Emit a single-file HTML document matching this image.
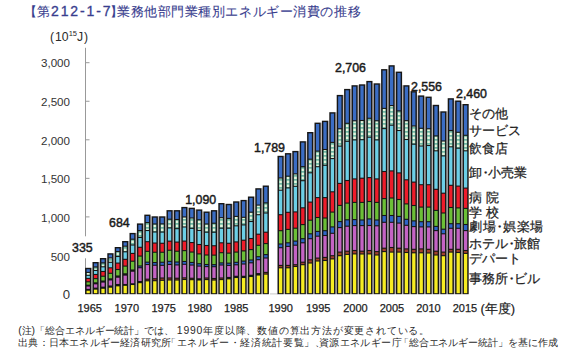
<!DOCTYPE html>
<html><head><meta charset="utf-8"><style>
html,body{margin:0;padding:0;background:#fff;}
body{width:567px;height:354px;position:relative;overflow:hidden;font-family:"Liberation Sans",sans-serif;color:#222;}
.t{position:absolute;white-space:nowrap;line-height:1;}
.tt{position:absolute;white-space:nowrap;line-height:1;top:5px;font-size:13px;color:#383d8e;-webkit-text-stroke:0.1px #383d8e;}
.yl{position:absolute;right:497px;font-size:11.6px;color:#333;line-height:1;white-space:nowrap;}
.xl{position:absolute;font-size:11px;color:#222;line-height:1;white-space:nowrap;-webkit-text-stroke:0.25px #222;}
.vl{position:absolute;font-size:12.4px;color:#1a1a1a;line-height:1;white-space:nowrap;-webkit-text-stroke:0.45px #1a1a1a;}
.lg{position:absolute;left:469px;font-size:13px;color:#1e1e1e;line-height:1;white-space:nowrap;-webkit-text-stroke:0.25px #1e1e1e;}
.d{margin:0 -3.3px;}
.fn{position:absolute;white-space:nowrap;line-height:1;font-size:10.4px;color:#2a2a2a;}
</style></head><body>
<div class="tt" style="left:24px;">【</div>
<div class="tt" style="left:37px;">第</div>
<div class="t" style="left:51px;top:4px;font-size:14px;color:#383d8e;letter-spacing:1.9px;-webkit-text-stroke:0.3px #383d8e;">212-1-7</div>
<div class="tt" style="left:110.3px;">】</div>
<div class="tt" style="left:117px;letter-spacing:0.56px;">業務他部門業種別エネルギー消費の推移</div>
<div class="t" style="left:50px;top:30.5px;font-size:12.2px;color:#2a2a2a;">(&#8202;10<span style="font-size:7.5px;position:relative;top:-4.5px;">15</span>J&#8202;)</div>
<svg width="567" height="354" style="position:absolute;left:0;top:0;">
<defs>
<pattern id="dots" patternUnits="userSpaceOnUse" x="85.1" y="0" width="7.4" height="4">
<rect x="0" y="0" width="7.4" height="4" fill="#3f9c8a"/>
<rect x="1.75" y="0.5" width="2.7" height="2.8" fill="#e6f4dc"/>
</pattern>
</defs>
<line x1="85.5" y1="47.8" x2="85.5" y2="294" stroke="#999" stroke-width="1"/>
<line x1="85.5" y1="255.45" x2="89.5" y2="255.45" stroke="#999" stroke-width="1"/><line x1="85.5" y1="216.90" x2="89.5" y2="216.90" stroke="#999" stroke-width="1"/><line x1="85.5" y1="178.35" x2="89.5" y2="178.35" stroke="#999" stroke-width="1"/><line x1="85.5" y1="139.80" x2="89.5" y2="139.80" stroke="#999" stroke-width="1"/><line x1="85.5" y1="101.25" x2="89.5" y2="101.25" stroke="#999" stroke-width="1"/><line x1="85.5" y1="62.70" x2="89.5" y2="62.70" stroke="#999" stroke-width="1"/>
<rect x="70" y="236.3" width="24" height="22" fill="#fff"/>
<line x1="270" y1="293.9" x2="278" y2="293.9" stroke="#bbb" stroke-width="0.8"/>
<rect x="91.30" y="267.80" width="1.20" height="26.40" fill="#c2baba"/>
<rect x="98.70" y="262.00" width="1.20" height="32.20" fill="#c2baba"/>
<rect x="106.10" y="258.00" width="1.20" height="36.20" fill="#c2baba"/>
<rect x="113.50" y="253.20" width="1.20" height="41.00" fill="#c2baba"/>
<rect x="120.90" y="247.00" width="1.20" height="47.20" fill="#c2baba"/>
<rect x="128.30" y="241.00" width="1.20" height="53.20" fill="#c2baba"/>
<rect x="135.70" y="232.90" width="1.20" height="61.30" fill="#c2baba"/>
<rect x="143.10" y="223.40" width="1.20" height="70.80" fill="#c2baba"/>
<rect x="150.50" y="216.30" width="1.20" height="77.90" fill="#c2baba"/>
<rect x="157.90" y="216.30" width="1.20" height="77.90" fill="#c2baba"/>
<rect x="165.30" y="216.30" width="1.20" height="77.90" fill="#c2baba"/>
<rect x="172.70" y="210.10" width="1.20" height="84.10" fill="#c2baba"/>
<rect x="180.10" y="210.10" width="1.20" height="84.10" fill="#c2baba"/>
<rect x="187.50" y="207.70" width="1.20" height="86.50" fill="#c2baba"/>
<rect x="194.90" y="209.40" width="1.20" height="84.80" fill="#c2baba"/>
<rect x="202.30" y="211.50" width="1.20" height="82.70" fill="#c2baba"/>
<rect x="209.70" y="211.50" width="1.20" height="82.70" fill="#c2baba"/>
<rect x="217.10" y="210.10" width="1.20" height="84.10" fill="#c2baba"/>
<rect x="224.50" y="203.80" width="1.20" height="90.40" fill="#c2baba"/>
<rect x="231.90" y="203.80" width="1.20" height="90.40" fill="#c2baba"/>
<rect x="239.30" y="201.30" width="1.20" height="92.90" fill="#c2baba"/>
<rect x="246.70" y="199.90" width="1.20" height="94.30" fill="#c2baba"/>
<rect x="254.10" y="196.50" width="1.20" height="97.70" fill="#c2baba"/>
<rect x="261.50" y="188.20" width="1.20" height="106.00" fill="#c2baba"/>
<rect x="283.70" y="155.80" width="1.20" height="138.40" fill="#c2baba"/>
<rect x="291.10" y="153.10" width="1.20" height="141.10" fill="#c2baba"/>
<rect x="298.50" y="150.90" width="1.20" height="143.30" fill="#c2baba"/>
<rect x="305.90" y="141.20" width="1.20" height="153.00" fill="#c2baba"/>
<rect x="313.30" y="132.00" width="1.20" height="162.20" fill="#c2baba"/>
<rect x="320.70" y="122.60" width="1.20" height="171.60" fill="#c2baba"/>
<rect x="328.10" y="120.70" width="1.20" height="173.50" fill="#c2baba"/>
<rect x="335.50" y="112.20" width="1.20" height="182.00" fill="#c2baba"/>
<rect x="342.90" y="94.90" width="1.20" height="199.30" fill="#c2baba"/>
<rect x="350.30" y="88.90" width="1.20" height="205.30" fill="#c2baba"/>
<rect x="357.70" y="85.20" width="1.20" height="209.00" fill="#c2baba"/>
<rect x="365.10" y="84.30" width="1.20" height="209.90" fill="#c2baba"/>
<rect x="372.50" y="83.30" width="1.20" height="210.90" fill="#c2baba"/>
<rect x="379.90" y="83.30" width="1.20" height="210.90" fill="#c2baba"/>
<rect x="387.30" y="69.10" width="1.20" height="225.10" fill="#c2baba"/>
<rect x="394.70" y="71.60" width="1.20" height="222.60" fill="#c2baba"/>
<rect x="402.10" y="85.20" width="1.20" height="209.00" fill="#c2baba"/>
<rect x="409.50" y="91.10" width="1.20" height="203.10" fill="#c2baba"/>
<rect x="416.90" y="95.40" width="1.20" height="198.80" fill="#c2baba"/>
<rect x="424.30" y="96.60" width="1.20" height="197.60" fill="#c2baba"/>
<rect x="431.70" y="104.80" width="1.20" height="189.40" fill="#c2baba"/>
<rect x="439.10" y="111.30" width="1.20" height="182.90" fill="#c2baba"/>
<rect x="446.50" y="111.30" width="1.20" height="182.90" fill="#c2baba"/>
<rect x="453.90" y="100.50" width="1.20" height="193.70" fill="#c2baba"/>
<rect x="461.30" y="104.00" width="1.20" height="190.20" fill="#c2baba"/>
<rect x="85.10" y="267.80" width="6.20" height="26.40" fill="#161616"/>
<rect x="86.55" y="269.20" width="3.30" height="2.65" fill="#3b6dc4"/>
<rect x="86.55" y="272.95" width="3.30" height="1.80" fill="url(#dots)"/>
<rect x="86.55" y="275.85" width="3.30" height="2.00" fill="#6ccfe6"/>
<rect x="86.55" y="278.95" width="3.30" height="2.30" fill="#ee1c2a"/>
<rect x="86.55" y="282.35" width="3.30" height="2.30" fill="#6cbf37"/>
<rect x="86.55" y="286.55" width="3.30" height="2.30" fill="#c463c4"/>
<rect x="86.55" y="290.75" width="3.30" height="2.45" fill="#f6ec22"/>
<rect x="92.50" y="262.00" width="6.20" height="32.20" fill="#161616"/>
<rect x="93.95" y="263.40" width="3.30" height="3.03" fill="#3b6dc4"/>
<rect x="93.95" y="267.53" width="3.30" height="2.41" fill="url(#dots)"/>
<rect x="93.95" y="271.03" width="3.30" height="2.86" fill="#6ccfe6"/>
<rect x="93.95" y="274.99" width="3.30" height="3.10" fill="#ee1c2a"/>
<rect x="93.95" y="279.19" width="3.30" height="3.12" fill="#6cbf37"/>
<rect x="93.95" y="284.35" width="3.30" height="3.26" fill="#c463c4"/>
<rect x="93.95" y="289.66" width="3.30" height="3.54" fill="#f6ec22"/>
<rect x="99.90" y="258.00" width="6.20" height="36.20" fill="#161616"/>
<rect x="101.35" y="259.40" width="3.30" height="2.93" fill="#3b6dc4"/>
<rect x="101.35" y="263.43" width="3.30" height="2.81" fill="url(#dots)"/>
<rect x="101.35" y="267.34" width="3.30" height="3.56" fill="#6ccfe6"/>
<rect x="101.35" y="271.99" width="3.30" height="3.69" fill="#ee1c2a"/>
<rect x="101.35" y="276.78" width="3.30" height="3.72" fill="#6cbf37"/>
<rect x="101.35" y="282.61" width="3.30" height="4.03" fill="#c463c4"/>
<rect x="101.35" y="288.79" width="3.30" height="4.41" fill="#f6ec22"/>
<rect x="107.30" y="253.20" width="6.20" height="41.00" fill="#161616"/>
<rect x="108.75" y="254.60" width="3.30" height="2.77" fill="#3b6dc4"/>
<rect x="108.75" y="258.47" width="3.30" height="3.28" fill="url(#dots)"/>
<rect x="108.75" y="262.85" width="3.30" height="4.40" fill="#6ccfe6"/>
<rect x="108.75" y="268.35" width="3.30" height="4.39" fill="#ee1c2a"/>
<rect x="108.75" y="273.84" width="3.30" height="4.45" fill="#6cbf37"/>
<rect x="108.75" y="280.49" width="3.30" height="4.98" fill="#c463c4"/>
<rect x="108.75" y="287.72" width="3.30" height="5.48" fill="#f6ec22"/>
<rect x="114.70" y="247.00" width="6.20" height="47.20" fill="#161616"/>
<rect x="116.15" y="248.40" width="3.30" height="2.55" fill="#3b6dc4"/>
<rect x="116.15" y="252.05" width="3.30" height="3.90" fill="url(#dots)"/>
<rect x="116.15" y="257.05" width="3.30" height="5.50" fill="#6ccfe6"/>
<rect x="116.15" y="263.65" width="3.30" height="5.30" fill="#ee1c2a"/>
<rect x="116.15" y="270.05" width="3.30" height="5.40" fill="#6cbf37"/>
<rect x="116.15" y="277.75" width="3.30" height="6.20" fill="#c463c4"/>
<rect x="116.15" y="286.35" width="3.30" height="6.85" fill="#f6ec22"/>
<rect x="122.10" y="241.00" width="6.20" height="53.20" fill="#161616"/>
<rect x="123.55" y="242.40" width="3.30" height="3.25" fill="#3b6dc4"/>
<rect x="123.55" y="246.75" width="3.30" height="4.50" fill="url(#dots)"/>
<rect x="123.55" y="252.35" width="3.30" height="6.40" fill="#6ccfe6"/>
<rect x="123.55" y="259.85" width="3.30" height="5.70" fill="#ee1c2a"/>
<rect x="123.55" y="266.65" width="3.30" height="6.60" fill="#6cbf37"/>
<rect x="123.55" y="275.65" width="3.30" height="8.30" fill="#c463c4"/>
<rect x="123.55" y="285.85" width="3.30" height="7.35" fill="#f6ec22"/>
<rect x="129.50" y="232.90" width="6.20" height="61.30" fill="#161616"/>
<rect x="130.95" y="234.30" width="3.30" height="4.35" fill="#3b6dc4"/>
<rect x="130.95" y="239.75" width="3.30" height="4.70" fill="url(#dots)"/>
<rect x="130.95" y="245.55" width="3.30" height="7.30" fill="#6ccfe6"/>
<rect x="130.95" y="253.95" width="3.30" height="6.70" fill="#ee1c2a"/>
<rect x="130.95" y="261.75" width="3.30" height="7.70" fill="#6cbf37"/>
<rect x="130.95" y="271.75" width="3.30" height="11.50" fill="#c463c4"/>
<rect x="130.95" y="285.05" width="3.30" height="8.15" fill="#f6ec22"/>
<rect x="136.90" y="223.40" width="6.20" height="70.80" fill="#161616"/>
<rect x="138.35" y="224.80" width="3.30" height="5.23" fill="#3b6dc4"/>
<rect x="138.35" y="231.13" width="3.30" height="5.78" fill="url(#dots)"/>
<rect x="138.35" y="238.02" width="3.30" height="8.72" fill="#6ccfe6"/>
<rect x="138.35" y="247.83" width="3.30" height="7.70" fill="#ee1c2a"/>
<rect x="138.35" y="256.63" width="3.30" height="8.79" fill="#6cbf37"/>
<rect x="138.35" y="266.53" width="3.30" height="0.64" fill="#2f66c8"/>
<rect x="138.35" y="268.27" width="3.30" height="12.70" fill="#c463c4"/>
<rect x="138.35" y="283.19" width="3.30" height="10.01" fill="#f6ec22"/>
<rect x="144.30" y="214.60" width="6.20" height="79.60" fill="#161616"/>
<rect x="145.75" y="216.00" width="3.30" height="6.02" fill="#3b6dc4"/>
<rect x="145.75" y="223.12" width="3.30" height="6.85" fill="url(#dots)"/>
<rect x="145.75" y="231.07" width="3.30" height="10.07" fill="#6ccfe6"/>
<rect x="145.75" y="242.24" width="3.30" height="8.56" fill="#ee1c2a"/>
<rect x="145.75" y="251.89" width="3.30" height="9.72" fill="#6cbf37"/>
<rect x="145.75" y="262.71" width="3.30" height="1.26" fill="#2f66c8"/>
<rect x="145.75" y="265.07" width="3.30" height="13.56" fill="#c463c4"/>
<rect x="145.75" y="279.73" width="3.30" height="0.53" fill="#a3402c"/>
<rect x="145.75" y="281.36" width="3.30" height="11.84" fill="#f6ec22"/>
<rect x="151.70" y="216.30" width="6.20" height="77.90" fill="#161616"/>
<rect x="153.15" y="217.70" width="3.30" height="5.74" fill="#3b6dc4"/>
<rect x="153.15" y="224.54" width="3.30" height="6.88" fill="url(#dots)"/>
<rect x="153.15" y="232.53" width="3.30" height="9.96" fill="#6ccfe6"/>
<rect x="153.15" y="243.59" width="3.30" height="8.12" fill="#ee1c2a"/>
<rect x="153.15" y="252.81" width="3.30" height="9.19" fill="#6cbf37"/>
<rect x="153.15" y="263.09" width="3.30" height="1.60" fill="#2f66c8"/>
<rect x="153.15" y="265.80" width="3.30" height="12.42" fill="#c463c4"/>
<rect x="153.15" y="279.31" width="3.30" height="0.85" fill="#a3402c"/>
<rect x="153.15" y="281.26" width="3.30" height="11.94" fill="#f6ec22"/>
<rect x="159.10" y="216.30" width="6.20" height="77.90" fill="#161616"/>
<rect x="160.55" y="217.70" width="3.30" height="5.64" fill="#3b6dc4"/>
<rect x="160.55" y="224.44" width="3.30" height="7.09" fill="url(#dots)"/>
<rect x="160.55" y="232.63" width="3.30" height="10.09" fill="#6ccfe6"/>
<rect x="160.55" y="243.82" width="3.30" height="7.89" fill="#ee1c2a"/>
<rect x="160.55" y="252.80" width="3.30" height="8.89" fill="#6cbf37"/>
<rect x="160.55" y="262.79" width="3.30" height="2.00" fill="#2f66c8"/>
<rect x="160.55" y="265.89" width="3.30" height="11.58" fill="#c463c4"/>
<rect x="160.55" y="278.57" width="3.30" height="1.20" fill="#a3402c"/>
<rect x="160.55" y="280.87" width="3.30" height="12.33" fill="#f6ec22"/>
<rect x="166.50" y="210.10" width="6.20" height="84.10" fill="#161616"/>
<rect x="167.95" y="211.50" width="3.30" height="7.16" fill="#3b6dc4"/>
<rect x="167.95" y="219.76" width="3.30" height="7.61" fill="url(#dots)"/>
<rect x="167.95" y="228.47" width="3.30" height="12.12" fill="#6ccfe6"/>
<rect x="167.95" y="241.69" width="3.30" height="8.01" fill="#ee1c2a"/>
<rect x="167.95" y="250.80" width="3.30" height="10.01" fill="#6cbf37"/>
<rect x="167.95" y="261.91" width="3.30" height="2.00" fill="#2f66c8"/>
<rect x="167.95" y="265.01" width="3.30" height="12.42" fill="#c463c4"/>
<rect x="167.95" y="278.53" width="3.30" height="0.90" fill="#a3402c"/>
<rect x="167.95" y="280.53" width="3.30" height="12.67" fill="#f6ec22"/>
<rect x="173.90" y="210.10" width="6.20" height="84.10" fill="#161616"/>
<rect x="175.35" y="211.50" width="3.30" height="7.46" fill="#3b6dc4"/>
<rect x="175.35" y="220.06" width="3.30" height="8.06" fill="url(#dots)"/>
<rect x="175.35" y="229.22" width="3.30" height="12.31" fill="#6ccfe6"/>
<rect x="175.35" y="242.63" width="3.30" height="8.06" fill="#ee1c2a"/>
<rect x="175.35" y="251.79" width="3.30" height="9.66" fill="#6cbf37"/>
<rect x="175.35" y="262.56" width="3.30" height="1.82" fill="#2f66c8"/>
<rect x="175.35" y="265.48" width="3.30" height="12.19" fill="#c463c4"/>
<rect x="175.35" y="278.77" width="3.30" height="0.70" fill="#a3402c"/>
<rect x="175.35" y="280.57" width="3.30" height="12.63" fill="#f6ec22"/>
<rect x="181.30" y="206.90" width="6.20" height="87.30" fill="#161616"/>
<rect x="182.75" y="208.30" width="3.30" height="8.13" fill="#3b6dc4"/>
<rect x="182.75" y="217.53" width="3.30" height="8.88" fill="url(#dots)"/>
<rect x="182.75" y="227.51" width="3.30" height="13.02" fill="#6ccfe6"/>
<rect x="182.75" y="241.63" width="3.30" height="8.47" fill="#ee1c2a"/>
<rect x="182.75" y="251.19" width="3.30" height="9.71" fill="#6cbf37"/>
<rect x="182.75" y="262.01" width="3.30" height="1.75" fill="#2f66c8"/>
<rect x="182.75" y="264.85" width="3.30" height="12.45" fill="#c463c4"/>
<rect x="182.75" y="278.40" width="3.30" height="0.56" fill="#a3402c"/>
<rect x="182.75" y="280.06" width="3.30" height="13.14" fill="#f6ec22"/>
<rect x="188.70" y="207.70" width="6.20" height="86.50" fill="#161616"/>
<rect x="190.15" y="209.10" width="3.30" height="8.35" fill="#3b6dc4"/>
<rect x="190.15" y="218.55" width="3.30" height="9.25" fill="url(#dots)"/>
<rect x="190.15" y="228.90" width="3.30" height="13.09" fill="#6ccfe6"/>
<rect x="190.15" y="243.08" width="3.30" height="8.43" fill="#ee1c2a"/>
<rect x="190.15" y="252.62" width="3.30" height="9.25" fill="#6cbf37"/>
<rect x="190.15" y="262.97" width="3.30" height="1.53" fill="#2f66c8"/>
<rect x="190.15" y="265.61" width="3.30" height="12.09" fill="#c463c4"/>
<rect x="190.15" y="278.80" width="3.30" height="0.33" fill="#a3402c"/>
<rect x="190.15" y="280.23" width="3.30" height="12.97" fill="#f6ec22"/>
<rect x="196.10" y="209.40" width="6.20" height="84.80" fill="#161616"/>
<rect x="197.55" y="210.80" width="3.30" height="8.45" fill="#3b6dc4"/>
<rect x="197.55" y="220.35" width="3.30" height="9.50" fill="url(#dots)"/>
<rect x="197.55" y="230.95" width="3.30" height="13.00" fill="#6ccfe6"/>
<rect x="197.55" y="245.05" width="3.30" height="8.30" fill="#ee1c2a"/>
<rect x="197.55" y="254.45" width="3.30" height="8.70" fill="#6cbf37"/>
<rect x="197.55" y="264.25" width="3.30" height="1.30" fill="#2f66c8"/>
<rect x="197.55" y="266.65" width="3.30" height="11.60" fill="#c463c4"/>
<rect x="197.55" y="280.55" width="3.30" height="12.65" fill="#f6ec22"/>
<rect x="203.50" y="211.50" width="6.20" height="82.70" fill="#161616"/>
<rect x="204.95" y="212.90" width="3.30" height="10.55" fill="#3b6dc4"/>
<rect x="204.95" y="224.55" width="3.30" height="7.10" fill="url(#dots)"/>
<rect x="204.95" y="232.75" width="3.30" height="12.20" fill="#6ccfe6"/>
<rect x="204.95" y="246.05" width="3.30" height="8.40" fill="#ee1c2a"/>
<rect x="204.95" y="255.55" width="3.30" height="8.40" fill="#6cbf37"/>
<rect x="204.95" y="265.05" width="3.30" height="1.00" fill="#2f66c8"/>
<rect x="204.95" y="267.15" width="3.30" height="10.30" fill="#c463c4"/>
<rect x="204.95" y="278.55" width="3.30" height="0.50" fill="#a3402c"/>
<rect x="204.95" y="280.15" width="3.30" height="13.05" fill="#f6ec22"/>
<rect x="210.90" y="210.10" width="6.20" height="84.10" fill="#161616"/>
<rect x="212.35" y="211.50" width="3.30" height="11.18" fill="#3b6dc4"/>
<rect x="212.35" y="223.78" width="3.30" height="7.91" fill="url(#dots)"/>
<rect x="212.35" y="232.79" width="3.30" height="12.39" fill="#6ccfe6"/>
<rect x="212.35" y="246.29" width="3.30" height="8.30" fill="#ee1c2a"/>
<rect x="212.35" y="255.68" width="3.30" height="8.43" fill="#6cbf37"/>
<rect x="212.35" y="265.22" width="3.30" height="0.94" fill="#2f66c8"/>
<rect x="212.35" y="267.25" width="3.30" height="10.69" fill="#c463c4"/>
<rect x="212.35" y="279.04" width="3.30" height="0.45" fill="#a3402c"/>
<rect x="212.35" y="280.59" width="3.30" height="12.61" fill="#f6ec22"/>
<rect x="218.30" y="203.00" width="6.20" height="91.20" fill="#161616"/>
<rect x="219.75" y="204.40" width="3.30" height="12.75" fill="#3b6dc4"/>
<rect x="219.75" y="218.25" width="3.30" height="9.40" fill="url(#dots)"/>
<rect x="219.75" y="228.75" width="3.30" height="13.50" fill="#6ccfe6"/>
<rect x="219.75" y="243.35" width="3.30" height="8.80" fill="#ee1c2a"/>
<rect x="219.75" y="253.25" width="3.30" height="9.10" fill="#6cbf37"/>
<rect x="219.75" y="263.45" width="3.30" height="1.00" fill="#2f66c8"/>
<rect x="219.75" y="265.55" width="3.30" height="11.90" fill="#c463c4"/>
<rect x="219.75" y="278.55" width="3.30" height="0.50" fill="#a3402c"/>
<rect x="219.75" y="280.15" width="3.30" height="13.05" fill="#f6ec22"/>
<rect x="225.70" y="203.80" width="6.20" height="90.40" fill="#161616"/>
<rect x="227.15" y="205.20" width="3.30" height="12.68" fill="#3b6dc4"/>
<rect x="227.15" y="218.98" width="3.30" height="8.68" fill="url(#dots)"/>
<rect x="227.15" y="228.76" width="3.30" height="13.97" fill="#6ccfe6"/>
<rect x="227.15" y="243.83" width="3.30" height="8.77" fill="#ee1c2a"/>
<rect x="227.15" y="253.70" width="3.30" height="8.92" fill="#6cbf37"/>
<rect x="227.15" y="263.72" width="3.30" height="1.16" fill="#2f66c8"/>
<rect x="227.15" y="265.97" width="3.30" height="10.94" fill="#c463c4"/>
<rect x="227.15" y="279.39" width="3.30" height="13.81" fill="#f6ec22"/>
<rect x="233.10" y="201.30" width="6.20" height="92.90" fill="#161616"/>
<rect x="234.55" y="202.70" width="3.30" height="13.15" fill="#3b6dc4"/>
<rect x="234.55" y="216.95" width="3.30" height="8.30" fill="url(#dots)"/>
<rect x="234.55" y="226.35" width="3.30" height="15.00" fill="#6ccfe6"/>
<rect x="234.55" y="242.45" width="3.30" height="9.10" fill="#ee1c2a"/>
<rect x="234.55" y="252.65" width="3.30" height="9.10" fill="#6cbf37"/>
<rect x="234.55" y="262.85" width="3.30" height="1.40" fill="#2f66c8"/>
<rect x="234.55" y="265.35" width="3.30" height="10.40" fill="#c463c4"/>
<rect x="234.55" y="278.05" width="3.30" height="15.15" fill="#f6ec22"/>
<rect x="240.50" y="199.90" width="6.20" height="94.30" fill="#161616"/>
<rect x="241.95" y="201.30" width="3.30" height="15.45" fill="#3b6dc4"/>
<rect x="241.95" y="217.85" width="3.30" height="6.50" fill="url(#dots)"/>
<rect x="241.95" y="225.45" width="3.30" height="14.20" fill="#6ccfe6"/>
<rect x="241.95" y="240.75" width="3.30" height="9.60" fill="#ee1c2a"/>
<rect x="241.95" y="251.45" width="3.30" height="9.10" fill="#6cbf37"/>
<rect x="241.95" y="261.65" width="3.30" height="1.80" fill="#2f66c8"/>
<rect x="241.95" y="264.55" width="3.30" height="11.20" fill="#c463c4"/>
<rect x="241.95" y="278.05" width="3.30" height="15.15" fill="#f6ec22"/>
<rect x="247.90" y="196.50" width="6.20" height="97.70" fill="#161616"/>
<rect x="249.35" y="197.90" width="3.30" height="13.75" fill="#3b6dc4"/>
<rect x="249.35" y="212.75" width="3.30" height="8.20" fill="url(#dots)"/>
<rect x="249.35" y="222.05" width="3.30" height="15.90" fill="#6ccfe6"/>
<rect x="249.35" y="239.05" width="3.30" height="10.00" fill="#ee1c2a"/>
<rect x="249.35" y="250.15" width="3.30" height="9.30" fill="#6cbf37"/>
<rect x="249.35" y="260.55" width="3.30" height="1.70" fill="#2f66c8"/>
<rect x="249.35" y="263.35" width="3.30" height="11.40" fill="#c463c4"/>
<rect x="249.35" y="277.05" width="3.30" height="16.15" fill="#f6ec22"/>
<rect x="255.30" y="188.20" width="6.20" height="106.00" fill="#161616"/>
<rect x="256.75" y="189.60" width="3.30" height="14.95" fill="#3b6dc4"/>
<rect x="256.75" y="205.65" width="3.30" height="8.50" fill="url(#dots)"/>
<rect x="256.75" y="215.25" width="3.30" height="18.40" fill="#6ccfe6"/>
<rect x="256.75" y="234.75" width="3.30" height="10.00" fill="#ee1c2a"/>
<rect x="256.75" y="245.85" width="3.30" height="10.30" fill="#6cbf37"/>
<rect x="256.75" y="257.25" width="3.30" height="1.90" fill="#2f66c8"/>
<rect x="256.75" y="260.25" width="3.30" height="12.80" fill="#c463c4"/>
<rect x="256.75" y="275.55" width="3.30" height="17.65" fill="#f6ec22"/>
<rect x="262.70" y="185.50" width="6.20" height="108.70" fill="#161616"/>
<rect x="264.15" y="186.90" width="3.30" height="15.45" fill="#3b6dc4"/>
<rect x="264.15" y="203.45" width="3.30" height="9.00" fill="url(#dots)"/>
<rect x="264.15" y="213.55" width="3.30" height="18.10" fill="#6ccfe6"/>
<rect x="264.15" y="232.75" width="3.30" height="10.30" fill="#ee1c2a"/>
<rect x="264.15" y="244.15" width="3.30" height="9.90" fill="#6cbf37"/>
<rect x="264.15" y="255.15" width="3.30" height="2.30" fill="#2f66c8"/>
<rect x="264.15" y="258.55" width="3.30" height="13.30" fill="#c463c4"/>
<rect x="264.15" y="272.95" width="3.30" height="0.60" fill="#a3402c"/>
<rect x="264.15" y="274.65" width="3.30" height="18.55" fill="#f6ec22"/>
<rect x="277.50" y="155.80" width="6.20" height="138.40" fill="#161616"/>
<rect x="278.95" y="157.20" width="3.30" height="20.25" fill="#3b6dc4"/>
<rect x="278.95" y="178.55" width="3.30" height="11.10" fill="url(#dots)"/>
<rect x="278.95" y="190.75" width="3.30" height="23.40" fill="#6ccfe6"/>
<rect x="278.95" y="215.25" width="3.30" height="14.90" fill="#ee1c2a"/>
<rect x="278.95" y="231.25" width="3.30" height="12.20" fill="#6cbf37"/>
<rect x="278.95" y="244.55" width="3.30" height="2.60" fill="#2f66c8"/>
<rect x="278.95" y="248.25" width="3.30" height="16.60" fill="#c463c4"/>
<rect x="278.95" y="265.95" width="3.30" height="1.30" fill="#a3402c"/>
<rect x="278.95" y="268.35" width="3.30" height="24.85" fill="#f6ec22"/>
<rect x="284.90" y="153.10" width="6.20" height="141.10" fill="#161616"/>
<rect x="286.35" y="154.50" width="3.30" height="21.15" fill="#3b6dc4"/>
<rect x="286.35" y="176.75" width="3.30" height="10.60" fill="url(#dots)"/>
<rect x="286.35" y="188.45" width="3.30" height="23.30" fill="#6ccfe6"/>
<rect x="286.35" y="212.85" width="3.30" height="16.00" fill="#ee1c2a"/>
<rect x="286.35" y="229.95" width="3.30" height="12.30" fill="#6cbf37"/>
<rect x="286.35" y="243.35" width="3.30" height="2.50" fill="#2f66c8"/>
<rect x="286.35" y="246.95" width="3.30" height="17.90" fill="#c463c4"/>
<rect x="286.35" y="265.95" width="3.30" height="1.30" fill="#a3402c"/>
<rect x="286.35" y="268.35" width="3.30" height="24.85" fill="#f6ec22"/>
<rect x="292.30" y="150.90" width="6.20" height="143.30" fill="#161616"/>
<rect x="293.75" y="152.30" width="3.30" height="21.05" fill="#3b6dc4"/>
<rect x="293.75" y="174.45" width="3.30" height="11.30" fill="url(#dots)"/>
<rect x="293.75" y="186.85" width="3.30" height="24.50" fill="#6ccfe6"/>
<rect x="293.75" y="212.45" width="3.30" height="15.20" fill="#ee1c2a"/>
<rect x="293.75" y="228.75" width="3.30" height="11.80" fill="#6cbf37"/>
<rect x="293.75" y="241.65" width="3.30" height="3.00" fill="#2f66c8"/>
<rect x="293.75" y="245.75" width="3.30" height="18.40" fill="#c463c4"/>
<rect x="293.75" y="265.25" width="3.30" height="0.70" fill="#a3402c"/>
<rect x="293.75" y="267.05" width="3.30" height="26.15" fill="#f6ec22"/>
<rect x="299.70" y="141.20" width="6.20" height="153.00" fill="#161616"/>
<rect x="301.15" y="142.60" width="3.30" height="23.55" fill="#3b6dc4"/>
<rect x="301.15" y="167.25" width="3.30" height="12.90" fill="url(#dots)"/>
<rect x="301.15" y="181.25" width="3.30" height="26.00" fill="#6ccfe6"/>
<rect x="301.15" y="208.35" width="3.30" height="15.70" fill="#ee1c2a"/>
<rect x="301.15" y="225.15" width="3.30" height="13.00" fill="#6cbf37"/>
<rect x="301.15" y="239.25" width="3.30" height="3.00" fill="#2f66c8"/>
<rect x="301.15" y="243.35" width="3.30" height="18.30" fill="#c463c4"/>
<rect x="301.15" y="262.75" width="3.30" height="1.40" fill="#a3402c"/>
<rect x="301.15" y="265.25" width="3.30" height="27.95" fill="#f6ec22"/>
<rect x="307.10" y="132.00" width="6.20" height="162.20" fill="#161616"/>
<rect x="308.55" y="133.40" width="3.30" height="25.25" fill="#3b6dc4"/>
<rect x="308.55" y="159.75" width="3.30" height="12.50" fill="url(#dots)"/>
<rect x="308.55" y="173.35" width="3.30" height="28.20" fill="#6ccfe6"/>
<rect x="308.55" y="202.65" width="3.30" height="17.00" fill="#ee1c2a"/>
<rect x="308.55" y="220.75" width="3.30" height="12.50" fill="#6cbf37"/>
<rect x="308.55" y="234.35" width="3.30" height="3.80" fill="#2f66c8"/>
<rect x="308.55" y="239.25" width="3.30" height="20.00" fill="#c463c4"/>
<rect x="308.55" y="260.35" width="3.30" height="2.10" fill="#a3402c"/>
<rect x="308.55" y="263.55" width="3.30" height="29.65" fill="#f6ec22"/>
<rect x="314.50" y="122.60" width="6.20" height="171.60" fill="#161616"/>
<rect x="315.95" y="124.00" width="3.30" height="26.55" fill="#3b6dc4"/>
<rect x="315.95" y="151.65" width="3.30" height="14.50" fill="url(#dots)"/>
<rect x="315.95" y="167.25" width="3.30" height="29.80" fill="#6ccfe6"/>
<rect x="315.95" y="198.15" width="3.30" height="18.80" fill="#ee1c2a"/>
<rect x="315.95" y="218.05" width="3.30" height="12.80" fill="#6cbf37"/>
<rect x="315.95" y="231.95" width="3.30" height="3.70" fill="#2f66c8"/>
<rect x="315.95" y="236.75" width="3.30" height="20.80" fill="#c463c4"/>
<rect x="315.95" y="258.65" width="3.30" height="1.80" fill="#a3402c"/>
<rect x="315.95" y="261.55" width="3.30" height="31.65" fill="#f6ec22"/>
<rect x="321.90" y="120.70" width="6.20" height="173.50" fill="#161616"/>
<rect x="323.35" y="122.10" width="3.30" height="26.85" fill="#3b6dc4"/>
<rect x="323.35" y="150.05" width="3.30" height="14.70" fill="url(#dots)"/>
<rect x="323.35" y="165.85" width="3.30" height="31.20" fill="#6ccfe6"/>
<rect x="323.35" y="198.15" width="3.30" height="19.30" fill="#ee1c2a"/>
<rect x="323.35" y="218.55" width="3.30" height="11.60" fill="#6cbf37"/>
<rect x="323.35" y="231.25" width="3.30" height="3.70" fill="#2f66c8"/>
<rect x="323.35" y="236.05" width="3.30" height="20.80" fill="#c463c4"/>
<rect x="323.35" y="257.95" width="3.30" height="2.00" fill="#a3402c"/>
<rect x="323.35" y="261.05" width="3.30" height="32.15" fill="#f6ec22"/>
<rect x="329.30" y="112.20" width="6.20" height="182.00" fill="#161616"/>
<rect x="330.75" y="113.60" width="3.30" height="28.25" fill="#3b6dc4"/>
<rect x="330.75" y="142.95" width="3.30" height="15.10" fill="url(#dots)"/>
<rect x="330.75" y="159.15" width="3.30" height="32.10" fill="#6ccfe6"/>
<rect x="330.75" y="192.35" width="3.30" height="19.20" fill="#ee1c2a"/>
<rect x="330.75" y="212.65" width="3.30" height="13.70" fill="#6cbf37"/>
<rect x="330.75" y="227.45" width="3.30" height="5.30" fill="#2f66c8"/>
<rect x="330.75" y="233.85" width="3.30" height="21.30" fill="#c463c4"/>
<rect x="330.75" y="256.25" width="3.30" height="2.10" fill="#a3402c"/>
<rect x="330.75" y="259.45" width="3.30" height="33.75" fill="#f6ec22"/>
<rect x="336.70" y="94.90" width="6.20" height="199.30" fill="#161616"/>
<rect x="338.15" y="96.30" width="3.30" height="31.95" fill="#3b6dc4"/>
<rect x="338.15" y="129.35" width="3.30" height="16.20" fill="url(#dots)"/>
<rect x="338.15" y="146.65" width="3.30" height="36.20" fill="#6ccfe6"/>
<rect x="338.15" y="183.95" width="3.30" height="20.90" fill="#ee1c2a"/>
<rect x="338.15" y="205.95" width="3.30" height="15.10" fill="#6cbf37"/>
<rect x="338.15" y="222.15" width="3.30" height="4.90" fill="#2f66c8"/>
<rect x="338.15" y="228.15" width="3.30" height="23.40" fill="#c463c4"/>
<rect x="338.15" y="252.65" width="3.30" height="2.50" fill="#a3402c"/>
<rect x="338.15" y="256.25" width="3.30" height="36.95" fill="#f6ec22"/>
<rect x="344.10" y="88.90" width="6.20" height="205.30" fill="#161616"/>
<rect x="345.55" y="90.30" width="3.30" height="32.45" fill="#3b6dc4"/>
<rect x="345.55" y="123.85" width="3.30" height="16.90" fill="url(#dots)"/>
<rect x="345.55" y="141.85" width="3.30" height="38.10" fill="#6ccfe6"/>
<rect x="345.55" y="181.05" width="3.30" height="21.50" fill="#ee1c2a"/>
<rect x="345.55" y="203.65" width="3.30" height="15.60" fill="#6cbf37"/>
<rect x="345.55" y="220.35" width="3.30" height="5.30" fill="#2f66c8"/>
<rect x="345.55" y="226.75" width="3.30" height="23.90" fill="#c463c4"/>
<rect x="345.55" y="251.75" width="3.30" height="2.10" fill="#a3402c"/>
<rect x="345.55" y="254.95" width="3.30" height="38.25" fill="#f6ec22"/>
<rect x="351.50" y="85.20" width="6.20" height="209.00" fill="#161616"/>
<rect x="352.95" y="86.60" width="3.30" height="33.65" fill="#3b6dc4"/>
<rect x="352.95" y="121.35" width="3.30" height="18.00" fill="url(#dots)"/>
<rect x="352.95" y="140.45" width="3.30" height="37.90" fill="#6ccfe6"/>
<rect x="352.95" y="179.45" width="3.30" height="22.40" fill="#ee1c2a"/>
<rect x="352.95" y="202.95" width="3.30" height="16.10" fill="#6cbf37"/>
<rect x="352.95" y="220.15" width="3.30" height="4.90" fill="#2f66c8"/>
<rect x="352.95" y="226.15" width="3.30" height="23.80" fill="#c463c4"/>
<rect x="352.95" y="251.05" width="3.30" height="2.30" fill="#a3402c"/>
<rect x="352.95" y="254.45" width="3.30" height="38.75" fill="#f6ec22"/>
<rect x="358.90" y="84.30" width="6.20" height="209.90" fill="#161616"/>
<rect x="360.35" y="85.70" width="3.30" height="34.25" fill="#3b6dc4"/>
<rect x="360.35" y="121.05" width="3.30" height="18.10" fill="url(#dots)"/>
<rect x="360.35" y="140.25" width="3.30" height="37.40" fill="#6ccfe6"/>
<rect x="360.35" y="178.75" width="3.30" height="23.10" fill="#ee1c2a"/>
<rect x="360.35" y="202.95" width="3.30" height="16.50" fill="#6cbf37"/>
<rect x="360.35" y="220.55" width="3.30" height="4.50" fill="#2f66c8"/>
<rect x="360.35" y="226.15" width="3.30" height="24.50" fill="#c463c4"/>
<rect x="360.35" y="251.75" width="3.30" height="1.70" fill="#a3402c"/>
<rect x="360.35" y="254.55" width="3.30" height="38.65" fill="#f6ec22"/>
<rect x="366.30" y="80.90" width="6.20" height="213.30" fill="#161616"/>
<rect x="367.75" y="82.30" width="3.30" height="35.45" fill="#3b6dc4"/>
<rect x="367.75" y="118.85" width="3.30" height="17.80" fill="url(#dots)"/>
<rect x="367.75" y="137.75" width="3.30" height="39.30" fill="#6ccfe6"/>
<rect x="367.75" y="178.15" width="3.30" height="22.80" fill="#ee1c2a"/>
<rect x="367.75" y="202.05" width="3.30" height="16.30" fill="#6cbf37"/>
<rect x="367.75" y="219.45" width="3.30" height="5.50" fill="#2f66c8"/>
<rect x="367.75" y="226.05" width="3.30" height="23.90" fill="#c463c4"/>
<rect x="367.75" y="251.05" width="3.30" height="2.30" fill="#a3402c"/>
<rect x="367.75" y="254.45" width="3.30" height="38.75" fill="#f6ec22"/>
<rect x="373.70" y="83.30" width="6.20" height="210.90" fill="#161616"/>
<rect x="375.15" y="84.70" width="3.30" height="35.55" fill="#3b6dc4"/>
<rect x="375.15" y="121.35" width="3.30" height="18.00" fill="url(#dots)"/>
<rect x="375.15" y="140.45" width="3.30" height="37.90" fill="#6ccfe6"/>
<rect x="375.15" y="179.45" width="3.30" height="22.40" fill="#ee1c2a"/>
<rect x="375.15" y="202.95" width="3.30" height="16.50" fill="#6cbf37"/>
<rect x="375.15" y="220.55" width="3.30" height="4.70" fill="#2f66c8"/>
<rect x="375.15" y="226.35" width="3.30" height="24.70" fill="#c463c4"/>
<rect x="375.15" y="252.15" width="3.30" height="2.30" fill="#a3402c"/>
<rect x="375.15" y="255.55" width="3.30" height="37.65" fill="#f6ec22"/>
<rect x="381.10" y="69.10" width="6.20" height="225.10" fill="#161616"/>
<rect x="382.55" y="70.50" width="3.30" height="37.35" fill="#3b6dc4"/>
<rect x="382.55" y="108.95" width="3.30" height="19.10" fill="url(#dots)"/>
<rect x="382.55" y="129.15" width="3.30" height="41.80" fill="#6ccfe6"/>
<rect x="382.55" y="172.05" width="3.30" height="26.00" fill="#ee1c2a"/>
<rect x="382.55" y="199.15" width="3.30" height="15.80" fill="#6cbf37"/>
<rect x="382.55" y="216.05" width="3.30" height="5.70" fill="#2f66c8"/>
<rect x="382.55" y="222.85" width="3.30" height="24.80" fill="#c463c4"/>
<rect x="382.55" y="248.75" width="3.30" height="2.30" fill="#a3402c"/>
<rect x="382.55" y="252.15" width="3.30" height="41.05" fill="#f6ec22"/>
<rect x="388.50" y="65.20" width="6.20" height="229.00" fill="#161616"/>
<rect x="389.95" y="66.60" width="3.30" height="38.45" fill="#3b6dc4"/>
<rect x="389.95" y="106.15" width="3.30" height="18.50" fill="url(#dots)"/>
<rect x="389.95" y="125.75" width="3.30" height="44.60" fill="#6ccfe6"/>
<rect x="389.95" y="171.45" width="3.30" height="26.00" fill="#ee1c2a"/>
<rect x="389.95" y="198.55" width="3.30" height="16.40" fill="#6cbf37"/>
<rect x="389.95" y="216.05" width="3.30" height="5.70" fill="#2f66c8"/>
<rect x="389.95" y="222.85" width="3.30" height="24.10" fill="#c463c4"/>
<rect x="389.95" y="248.05" width="3.30" height="3.50" fill="#a3402c"/>
<rect x="389.95" y="252.65" width="3.30" height="40.55" fill="#f6ec22"/>
<rect x="395.90" y="71.60" width="6.20" height="222.60" fill="#161616"/>
<rect x="397.35" y="73.00" width="3.30" height="37.35" fill="#3b6dc4"/>
<rect x="397.35" y="111.45" width="3.30" height="18.50" fill="url(#dots)"/>
<rect x="397.35" y="131.05" width="3.30" height="41.30" fill="#6ccfe6"/>
<rect x="397.35" y="173.45" width="3.30" height="25.50" fill="#ee1c2a"/>
<rect x="397.35" y="200.05" width="3.30" height="15.80" fill="#6cbf37"/>
<rect x="397.35" y="216.95" width="3.30" height="5.60" fill="#2f66c8"/>
<rect x="397.35" y="223.65" width="3.30" height="24.00" fill="#c463c4"/>
<rect x="397.35" y="248.75" width="3.30" height="2.80" fill="#a3402c"/>
<rect x="397.35" y="252.65" width="3.30" height="40.55" fill="#f6ec22"/>
<rect x="403.30" y="85.20" width="6.20" height="209.00" fill="#161616"/>
<rect x="404.75" y="86.60" width="3.30" height="33.55" fill="#3b6dc4"/>
<rect x="404.75" y="121.25" width="3.30" height="17.70" fill="url(#dots)"/>
<rect x="404.75" y="140.05" width="3.30" height="39.20" fill="#6ccfe6"/>
<rect x="404.75" y="180.35" width="3.30" height="23.00" fill="#ee1c2a"/>
<rect x="404.75" y="204.45" width="3.30" height="14.30" fill="#6cbf37"/>
<rect x="404.75" y="219.85" width="3.30" height="4.90" fill="#2f66c8"/>
<rect x="404.75" y="225.85" width="3.30" height="22.50" fill="#c463c4"/>
<rect x="404.75" y="249.45" width="3.30" height="2.50" fill="#a3402c"/>
<rect x="404.75" y="253.05" width="3.30" height="40.15" fill="#f6ec22"/>
<rect x="410.70" y="91.10" width="6.20" height="203.10" fill="#161616"/>
<rect x="412.15" y="92.50" width="3.30" height="32.95" fill="#3b6dc4"/>
<rect x="412.15" y="126.55" width="3.30" height="17.10" fill="url(#dots)"/>
<rect x="412.15" y="144.75" width="3.30" height="36.80" fill="#6ccfe6"/>
<rect x="412.15" y="182.65" width="3.30" height="22.30" fill="#ee1c2a"/>
<rect x="412.15" y="206.05" width="3.30" height="14.30" fill="#6cbf37"/>
<rect x="412.15" y="221.45" width="3.30" height="4.60" fill="#2f66c8"/>
<rect x="412.15" y="227.15" width="3.30" height="21.60" fill="#c463c4"/>
<rect x="412.15" y="249.85" width="3.30" height="2.40" fill="#a3402c"/>
<rect x="412.15" y="253.35" width="3.30" height="39.85" fill="#f6ec22"/>
<rect x="418.10" y="95.40" width="6.20" height="198.80" fill="#161616"/>
<rect x="419.55" y="96.80" width="3.30" height="30.95" fill="#3b6dc4"/>
<rect x="419.55" y="128.85" width="3.30" height="16.60" fill="url(#dots)"/>
<rect x="419.55" y="146.55" width="3.30" height="37.60" fill="#6ccfe6"/>
<rect x="419.55" y="185.25" width="3.30" height="21.30" fill="#ee1c2a"/>
<rect x="419.55" y="207.65" width="3.30" height="13.50" fill="#6cbf37"/>
<rect x="419.55" y="222.25" width="3.30" height="4.10" fill="#2f66c8"/>
<rect x="419.55" y="227.45" width="3.30" height="20.90" fill="#c463c4"/>
<rect x="419.55" y="249.45" width="3.30" height="2.80" fill="#a3402c"/>
<rect x="419.55" y="253.35" width="3.30" height="39.85" fill="#f6ec22"/>
<rect x="425.50" y="96.60" width="6.20" height="197.60" fill="#161616"/>
<rect x="426.95" y="98.00" width="3.30" height="30.25" fill="#3b6dc4"/>
<rect x="426.95" y="129.35" width="3.30" height="15.60" fill="url(#dots)"/>
<rect x="426.95" y="146.05" width="3.30" height="38.10" fill="#6ccfe6"/>
<rect x="426.95" y="185.25" width="3.30" height="21.30" fill="#ee1c2a"/>
<rect x="426.95" y="207.65" width="3.30" height="13.50" fill="#6cbf37"/>
<rect x="426.95" y="222.25" width="3.30" height="4.10" fill="#2f66c8"/>
<rect x="426.95" y="227.45" width="3.30" height="21.30" fill="#c463c4"/>
<rect x="426.95" y="249.85" width="3.30" height="2.60" fill="#a3402c"/>
<rect x="426.95" y="253.55" width="3.30" height="39.65" fill="#f6ec22"/>
<rect x="432.90" y="104.80" width="6.20" height="189.40" fill="#161616"/>
<rect x="434.35" y="106.20" width="3.30" height="29.15" fill="#3b6dc4"/>
<rect x="434.35" y="136.45" width="3.30" height="13.80" fill="url(#dots)"/>
<rect x="434.35" y="151.35" width="3.30" height="37.40" fill="#6ccfe6"/>
<rect x="434.35" y="189.85" width="3.30" height="20.00" fill="#ee1c2a"/>
<rect x="434.35" y="210.95" width="3.30" height="14.90" fill="#6cbf37"/>
<rect x="434.35" y="226.95" width="3.30" height="3.10" fill="#2f66c8"/>
<rect x="434.35" y="231.15" width="3.30" height="19.50" fill="#c463c4"/>
<rect x="434.35" y="251.75" width="3.30" height="2.70" fill="#a3402c"/>
<rect x="434.35" y="255.55" width="3.30" height="37.65" fill="#f6ec22"/>
<rect x="440.30" y="111.30" width="6.20" height="182.90" fill="#161616"/>
<rect x="441.75" y="112.70" width="3.30" height="27.75" fill="#3b6dc4"/>
<rect x="441.75" y="141.55" width="3.30" height="13.80" fill="url(#dots)"/>
<rect x="441.75" y="156.45" width="3.30" height="36.20" fill="#6ccfe6"/>
<rect x="441.75" y="193.75" width="3.30" height="18.70" fill="#ee1c2a"/>
<rect x="441.75" y="213.55" width="3.30" height="15.10" fill="#6cbf37"/>
<rect x="441.75" y="229.75" width="3.30" height="3.50" fill="#2f66c8"/>
<rect x="441.75" y="234.35" width="3.30" height="17.20" fill="#c463c4"/>
<rect x="441.75" y="252.65" width="3.30" height="2.50" fill="#a3402c"/>
<rect x="441.75" y="256.25" width="3.30" height="36.95" fill="#f6ec22"/>
<rect x="447.70" y="98.20" width="6.20" height="196.00" fill="#161616"/>
<rect x="449.15" y="99.60" width="3.30" height="30.35" fill="#3b6dc4"/>
<rect x="449.15" y="131.05" width="3.30" height="15.20" fill="url(#dots)"/>
<rect x="449.15" y="147.35" width="3.30" height="37.40" fill="#6ccfe6"/>
<rect x="449.15" y="185.85" width="3.30" height="21.10" fill="#ee1c2a"/>
<rect x="449.15" y="208.05" width="3.30" height="15.10" fill="#6cbf37"/>
<rect x="449.15" y="224.25" width="3.30" height="3.50" fill="#2f66c8"/>
<rect x="449.15" y="228.85" width="3.30" height="19.90" fill="#c463c4"/>
<rect x="449.15" y="249.85" width="3.30" height="1.70" fill="#a3402c"/>
<rect x="449.15" y="252.65" width="3.30" height="40.55" fill="#f6ec22"/>
<rect x="455.10" y="100.50" width="6.20" height="193.70" fill="#161616"/>
<rect x="456.55" y="101.90" width="3.30" height="29.85" fill="#3b6dc4"/>
<rect x="456.55" y="132.85" width="3.30" height="14.80" fill="url(#dots)"/>
<rect x="456.55" y="148.75" width="3.30" height="36.80" fill="#6ccfe6"/>
<rect x="456.55" y="186.65" width="3.30" height="20.70" fill="#ee1c2a"/>
<rect x="456.55" y="208.45" width="3.30" height="14.70" fill="#6cbf37"/>
<rect x="456.55" y="224.25" width="3.30" height="3.50" fill="#2f66c8"/>
<rect x="456.55" y="228.85" width="3.30" height="19.90" fill="#c463c4"/>
<rect x="456.55" y="249.85" width="3.30" height="2.10" fill="#a3402c"/>
<rect x="456.55" y="253.05" width="3.30" height="40.15" fill="#f6ec22"/>
<rect x="462.50" y="104.00" width="6.20" height="190.20" fill="#161616"/>
<rect x="463.95" y="105.40" width="3.30" height="29.35" fill="#3b6dc4"/>
<rect x="463.95" y="135.85" width="3.30" height="14.40" fill="url(#dots)"/>
<rect x="463.95" y="151.35" width="3.30" height="36.20" fill="#6ccfe6"/>
<rect x="463.95" y="188.65" width="3.30" height="19.20" fill="#ee1c2a"/>
<rect x="463.95" y="208.95" width="3.30" height="15.00" fill="#6cbf37"/>
<rect x="463.95" y="225.05" width="3.30" height="5.00" fill="#2f66c8"/>
<rect x="463.95" y="231.15" width="3.30" height="18.80" fill="#c463c4"/>
<rect x="463.95" y="251.05" width="3.30" height="1.80" fill="#a3402c"/>
<rect x="463.95" y="253.95" width="3.30" height="39.25" fill="#f6ec22"/>
</svg>
<div class="yl" style="top:57px;">3,000</div>
<div class="yl" style="top:96px;">2,500</div>
<div class="yl" style="top:134.8px;">2,000</div>
<div class="yl" style="top:173.2px;">1,500</div>
<div class="yl" style="top:211.8px;">1,000</div>
<div class="yl" style="top:250.5px;">500</div>
<div class="yl" style="top:288px;font-size:13.2px;">0</div>
<div class="vl" style="left:72px;top:242px;">335</div>
<div class="vl" style="left:109px;top:216.5px;">684</div>
<div class="vl" style="left:185.2px;top:194px;">1,090</div>
<div class="vl" style="left:254px;top:141.5px;">1,789</div>
<div class="vl" style="left:335px;top:62px;">2,706</div>
<div class="vl" style="left:411px;top:81px;">2,556</div>
<div class="vl" style="left:456px;top:87.5px;">2,460</div>
<div class="lg" style="top:106.5px;">その他</div>
<div class="lg" style="top:123.5px;">サービス</div>
<div class="lg" style="top:142px;">飲食店</div>
<div class="lg" style="top:165.5px;">卸<span class="d">・</span>小売業</div>
<div class="lg" style="top:191px;">病 院</div>
<div class="lg" style="top:206px;">学 校</div>
<div class="lg" style="top:220px;letter-spacing:0.6px;">劇場<span class="d">・</span>娯楽場</div>
<div class="lg" style="top:237px;">ホテル<span class="d">・</span>旅館</div>
<div class="lg" style="top:251.5px;">デパート</div>
<div class="lg" style="top:271.5px;">事務所<span class="d">・</span>ビル</div>
<div class="xl" style="left:77.4px;top:303px;">1965</div>
<div class="xl" style="left:114.6px;top:303px;">1970</div>
<div class="xl" style="left:151.4px;top:303px;">1975</div>
<div class="xl" style="left:187.5px;top:303px;">1980</div>
<div class="xl" style="left:224px;top:303px;">1985</div>
<div class="xl" style="left:268.4px;top:303px;">1990</div>
<div class="xl" style="left:305.9px;top:303px;">1995</div>
<div class="xl" style="left:343.2px;top:303px;">2000</div>
<div class="xl" style="left:379.7px;top:303px;">2005</div>
<div class="xl" style="left:416.2px;top:303px;">2010</div>
<div class="xl" style="left:452.7px;top:303px;">2015</div>
<div class="t" style="left:480.5px;top:301.5px;font-size:13px;color:#222;-webkit-text-stroke:0.2px #222;">(年度)</div>
<div class="fn" style="left:18.2px;top:325.5px;letter-spacing:-0.06px;">(注)「総合エネルギー統計」では、</div>
<div class="fn" style="left:176.8px;top:325.5px;letter-spacing:0.8px;">1990年度以降、数値の算出方法が変更されている。</div>
<div class="fn" style="left:18.2px;top:337.5px;letter-spacing:0.2px;">出典：日本エネルギー経済研究所</div>
<div class="fn" style="left:166px;top:337.5px;letter-spacing:0.64px;">「エネルギー・経済統計要覧」、</div>
<div class="fn" style="left:318.8px;top:337.5px;letter-spacing:0.39px;">資源エネルギー庁</div>
<div class="fn" style="left:398.7px;top:337.5px;letter-spacing:-0.05px;">「総合エネルギー統計」を基に作成</div>
</body></html>
